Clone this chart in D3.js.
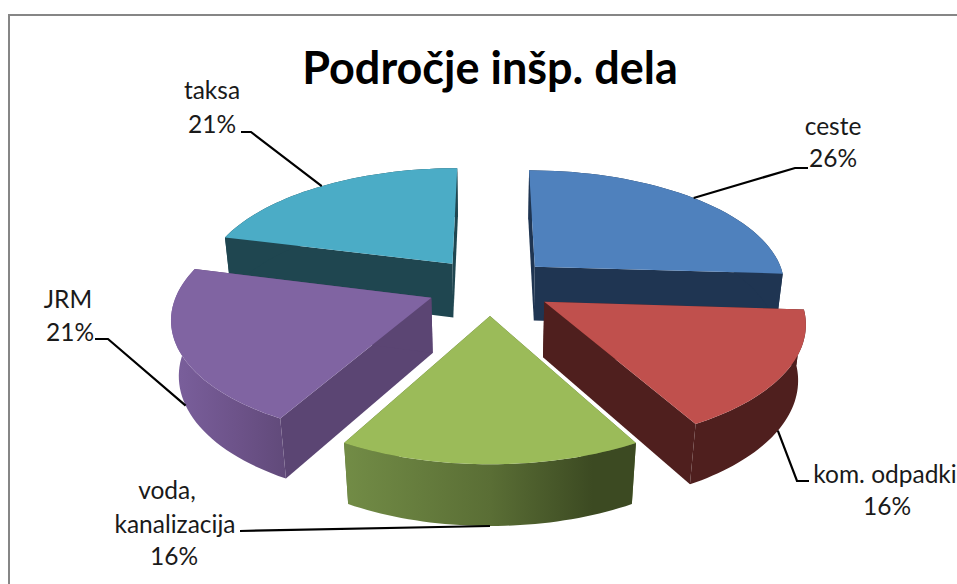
<!DOCTYPE html>
<html>
<head>
<meta charset="utf-8" />
<style>
	body { margin: 0; background: #fff; overflow: hidden; }
	svg { display: block; }
	.title { font-family: Lato, sans-serif; font-weight: 700; font-size: 45px; fill: #000; }
	.label { font-family: Lato, sans-serif; font-size: 24.5px; fill: #1a1a1a; }
	.leader { fill: none; stroke: #000; stroke-width: 2.2px; }
</style>
</head>
<body>
<script src="https://cdnjs.cloudflare.com/ajax/libs/d3/7.8.5/d3.min.js"></script>
<script>

//// Chart data ////
var title = "Področje inšp. dela";
var categories = ["ceste", "kom. odpadki", "voda, kanalizacija", "JRM", "taksa"];
var values = [26, 16, 16, 21, 21];

//// Look of the slices ////
var topColors  = ["#4f81bd", "#c0504d", "#9bbb59", "#8064a2", "#4bacc6"];
var sideColors = ["#1f3552", "#4f1f1e", "#5a6f35", "#5b4573", "#1f4650"];
var outerFills = ["#1f3552", "#4f1f1e", "url(#outer2)", "url(#outer3)", "#1f4650"];

//// Where each label sits, and which edge of the slice its leader line ends on (0 top, 1 bottom) ////
var labelLayout = [
	{ lines: [["ceste", 833, 135], ["26%", 833, 167]], leader: [[808, 168], [795, 168]], edge: 0 },
	{ lines: [["kom. odpadki", 885, 483], ["16%", 887, 515]], leader: [[809, 481], [797, 481]], edge: 1 },
	{ lines: [["voda,", 167, 499], ["kanalizacija", 175, 533], ["16%", 174, 565]], leader: [[240, 531]], edge: 1 },
	{ lines: [["JRM", 68, 308], ["21%", 70, 341]], leader: [[95, 339], [108, 339]], edge: 1 },
	{ lines: [["taksa", 212, 99], ["21%", 212, 133]], leader: [[241, 132], [251, 132]], edge: 0 }
];

var width = 957, height = 584;

// camera numbers fitted to the picture
var explode = 0.25, persp = 6.7, bottomShift = 0.024, sink = 56, tilt = 116;

var x = d3.scaleLinear().domain([-1, 1]).range([490 - 252, 490 + 252]);
var y = d3.scaleLinear().domain([-1, 1]).range([286 - tilt, 286 + tilt]);

// ground point (px right, py towards viewer) at level h (0 top face, 1 bottom face)
function project(px, py, h) {
	var w = 1 - py / persp + bottomShift * h;
	return [
		x(0) + (x(px) - x(0)) / w,
		y(0) + (y(py) - y(0) + sink * h) / w
	];
}

// point of a slice at radius r and pie angle a, with the slice pulled out along its middle
function slicePoint(d, a, r, h) {
	var mid = (d.startAngle + d.endAngle) / 2;
	var px = explode * Math.sin(mid) + r * Math.sin(a);
	var py = -explode * Math.cos(mid) - r * Math.cos(a);
	return project(px, py, h);
}

function arcPoints(d, h) {
	var n = 40;
	return d3.range(n + 1).map(function (i) {
		return slicePoint(d, d.startAngle + (d.endAngle - d.startAngle) * i / n, 1, h);
	});
}

var pie = d3.pie().sort(null).value(function (d) { return d; });
var slices = pie(values);

var line = d3.line();

var svg = d3.select("body").append("svg")
	.attr("width", width)
	.attr("height", height);

//// gradients for the round sides ////
var defs = svg.append("defs");

function addGradient(id, x1, x2, stops) {
	var g = defs.append("linearGradient")
		.attr("id", id)
		.attr("gradientUnits", "userSpaceOnUse")
		.attr("x1", x1).attr("x2", x2).attr("y1", 0).attr("y2", 0);
	stops.forEach(function (s) {
		g.append("stop").attr("offset", s[0]).attr("stop-color", s[1]);
	});
}
addGradient("outer2", 345, 636, [[0, "#728c46"], [0.5, "#5a6e35"], [0.85, "#3c4a22"], [1, "#3c4a22"]]);
addGradient("outer3", 175, 285, [[0, "#7a5f9c"], [0.6, "#6c5288"], [1, "#614a7a"]]);

//// frame ////
svg.append("path")
	.attr("d", line([[9, height + 2], [9, 15], [width + 2, 15]]))
	.attr("fill", "none")
	.attr("stroke", "#868686")
	.attr("stroke-width", 2);

//// slices, back to front ////
var order = slices.slice().sort(function (a, b) {
	var ma = (a.startAngle + a.endAngle) / 2, mb = (b.startAngle + b.endAngle) / 2;
	return Math.cos(mb) - Math.cos(ma);
});

var groups = svg.selectAll(".slice")
	.data(order)
	.enter()
  .append("g")
	.attr("class", "slice");

groups.each(function (d) {
	var g = d3.select(this);
	var top = arcPoints(d, 0);
	var bottom = arcPoints(d, 1);

	// flat cut walls
	[d.startAngle, d.endAngle].forEach(function (a) {
		var wall = [
			slicePoint(d, a, 0, 0),
			slicePoint(d, a, 1, 0),
			slicePoint(d, a, 1, 1),
			slicePoint(d, a, 0, 1)
		];
		g.append("path")
			.attr("d", line(wall) + "Z")
			.attr("fill", sideColors[d.index]);
	});

	// round wall
	g.append("path")
		.attr("d", line(top.concat(bottom.slice().reverse())) + "Z")
		.attr("fill", outerFills[d.index]);

	// top face
	g.append("path")
		.attr("d", line([slicePoint(d, d.startAngle, 0, 0)].concat(top)) + "Z")
		.attr("fill", topColors[d.index]);
});

//// leader lines ////
svg.selectAll(".leader")
	.data(slices)
	.enter()
  .append("path")
	.attr("class", "leader")
	.attr("d", function (d) {
		var mid = (d.startAngle + d.endAngle) / 2;
		var l = labelLayout[d.index];
		return line(l.leader.concat([slicePoint(d, mid, 1, l.edge)]));
	});

//// labels ////
labelLayout.forEach(function (l) {
	l.lines.forEach(function (t) {
		svg.append("text")
			.attr("class", "label")
			.attr("text-anchor", "middle")
			.attr("x", t[1])
			.attr("y", t[2])
			.text(t[0]);
	});
});

svg.append("text")
	.attr("class", "title")
	.attr("text-anchor", "middle")
	.attr("x", 490)
	.attr("y", 84)
	.text(title);

</script>
</body>
</html>
